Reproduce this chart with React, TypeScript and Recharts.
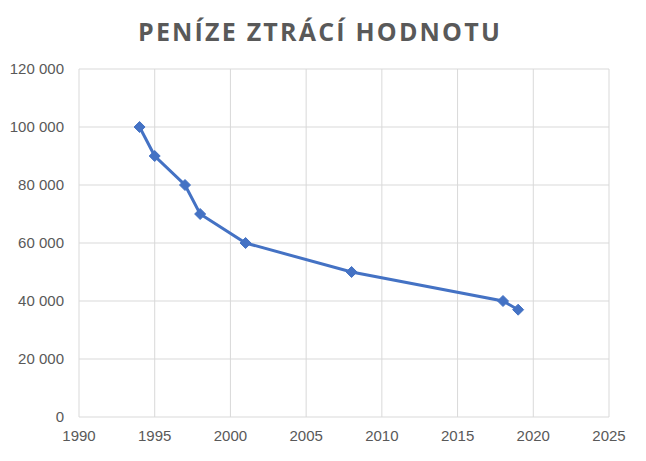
import React from 'react';
import { LineChart, Line, XAxis, YAxis, CartesianGrid } from 'recharts';

const years = [1994, 1995, 1997, 1998, 2001, 2008, 2018, 2019];
const values = [100000, 90000, 80000, 70000, 60000, 50000, 40000, 37000];
const xTicks = [1990, 1995, 2000, 2005, 2010, 2015, 2020, 2025];
const yTicks = [0, 20000, 40000, 60000, 80000, 100000, 120000];
const title = 'PENÍZE ZTRÁCÍ HODNOTU';

const data = years.map((y, i) => ({ year: y, value: values[i] }));

const fmt = (v: number) => {
  if (v === 0) return '0';
  const s = String(v);
  return s.slice(0, s.length - 3) + ' ' + s.slice(-3);
};

const FONT = '"Liberation Sans", Arial, sans-serif';

const XTick = (props: any) => {
  const { x, y, payload } = props;
  return (
    <text x={x} y={y + 24} textAnchor="middle" fill="#595959" fontSize={15} fontFamily={FONT}>
      {payload.value}
    </text>
  );
};

const YTick = (props: any) => {
  const { x, y, payload } = props;
  return (
    <text x={x - 15} y={y + 5} textAnchor="end" fill="#595959" fontSize={15} fontFamily={FONT} style={{ whiteSpace: 'pre' }}>
      {fmt(payload.value)}
    </text>
  );
};

const Diamond = (props: any) => {
  const { cx, cy } = props;
  if (cx == null || cy == null) return null;
  const r = 5.5;
  return (
    <polygon
      points={`${cx},${cy - r} ${cx + r},${cy} ${cx},${cy + r} ${cx - r},${cy}`}
      fill="#4472c4"
      stroke="#4472c4"
      strokeWidth={1}
    />
  );
};

export default function App() {
  return (
    <div style={{ position: 'absolute', left: 0, top: 0, width: 646, height: 461, background: '#fff' }}>
      <div
        style={{
          position: 'absolute',
          left: -3,
          top: 14,
          width: 646,
          textAlign: 'center',
          fontFamily: '"Open Sans", sans-serif',
          fontWeight: 700,
          fontSize: 25,
          letterSpacing: 2.2,
          color: '#595959',
          lineHeight: '34px',
        }}
      >
        {title}
      </div>
      <LineChart
        width={646}
        height={461}
        data={data}
        margin={{ top: 69, right: 37, bottom: 14, left: 0 }}
        style={{ position: 'absolute', left: 0, top: 0 }}
      >
        <CartesianGrid stroke="#d9d9d9" strokeWidth={1} />
        <XAxis
          dataKey="year"
          type="number"
          domain={[1990, 2025]}
          ticks={xTicks}
          axisLine={false}
          tickLine={false}
          tickSize={0}
          tickMargin={0}
          height={30}
          interval={0}
          tick={<XTick />}
        />
        <YAxis
          type="number"
          domain={[0, 120000]}
          ticks={yTicks}
          axisLine={false}
          tickLine={false}
          tickSize={0}
          tickMargin={0}
          width={79}
          interval={0}
          tick={<YTick />}
        />
        <Line
          dataKey="value"
          stroke="#4472c4"
          strokeWidth={3}
          dot={<Diamond />}
          activeDot={false}
          isAnimationActive={false}
        />
      </LineChart>
    </div>
  );
}
